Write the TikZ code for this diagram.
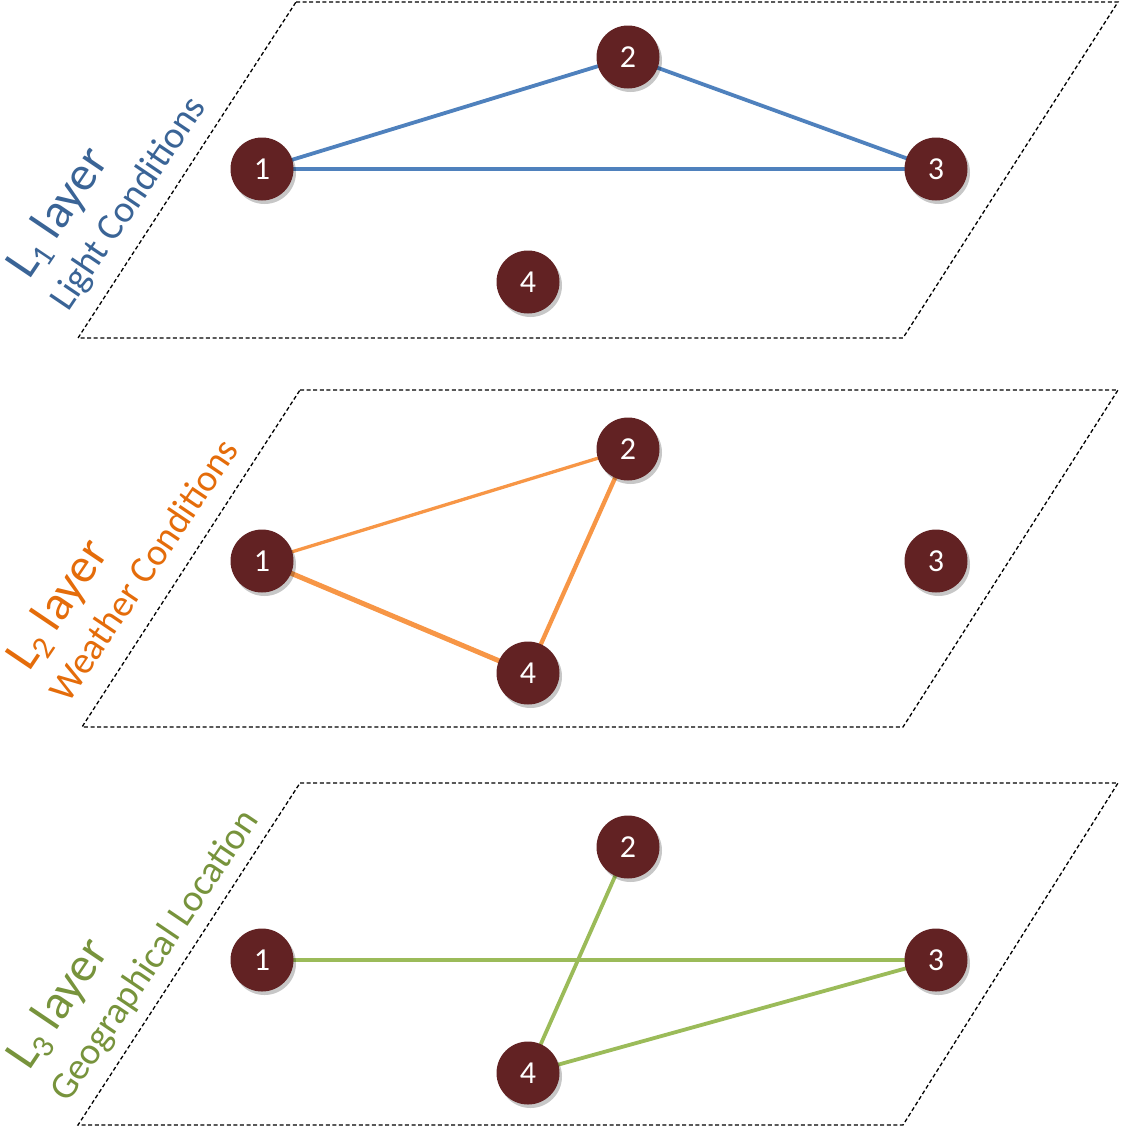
\documentclass[tikz,border=0pt]{standalone}
\usepackage{fontspec}
\setmainfont{Carlito}
\usetikzlibrary{shadows}
\pgfdeclarelayer{background}
\pgfsetlayers{background,main}
\definecolor{nodered}{HTML}{622223}
\definecolor{blueline}{HTML}{4F81BD}
\definecolor{bluetext}{HTML}{3A6496}
\definecolor{orangeline}{HTML}{F79646}
\definecolor{orangetext}{HTML}{E46C0A}
\definecolor{greenline}{HTML}{9BBB59}
\definecolor{greentext}{HTML}{77933C}
\newcommand{\lsub}[1]{\raisebox{-0.16em}{\fontsize{32}{32}\selectfont #1}}
\begin{document}
\begin{tikzpicture}[x=1pt,y=-1pt,
  vtx/.style={circle, fill=nodered, minimum size=63pt, inner sep=0pt, text=white,
    font=\fontsize{32}{32}\selectfont,
    drop shadow={shadow xshift=2.5pt, shadow yshift=-3.5pt, fill=black, opacity=0.22}},
  plane/.style={draw=black, line width=1.3pt, dash pattern=on 4pt off 2.6pt},
  title/.style={anchor=base west, rotate=56, inner sep=0pt, font=\fontsize{49}{49}\selectfont},
  subtitle/.style={anchor=base west, rotate=56, inner sep=0pt, font=\fontsize{38}{38}\selectfont},
  edge/.style={line width=3.8pt}
]
\useasboundingbox (0,0) rectangle (1121,1141);

% planes
\draw[plane] (296,2) -- (1118,2) -- (903,338) -- (78,338) -- cycle;
\draw[plane] (300,390) -- (1118,390) -- (903,727) -- (82,727) -- cycle;
\draw[plane] (300,783) -- (1118,783) -- (903,1125) -- (78,1125) -- cycle;

% layer 1
\node[vtx] (a1) at (262,169) {1};
\node[vtx] (a2) at (628,57) {2};
\node[vtx] (a3) at (936,169) {3};
\node[vtx] (a4) at (528,282) {4};
% layer 2
\node[vtx] (b1) at (262,561) {1};
\node[vtx] (b2) at (628,449) {2};
\node[vtx] (b3) at (936,561) {3};
\node[vtx] (b4) at (528,673) {4};
% layer 3
\node[vtx] (c1) at (262,960) {1};
\node[vtx] (c2) at (628,847) {2};
\node[vtx] (c3) at (936,960) {3};
\node[vtx] (c4) at (528,1073) {4};

\begin{pgfonlayer}{background}
\draw[edge, blueline] (a1.center) -- (a2.center) -- (a3.center);
\draw[edge, blueline] (a1.center) -- (a3.center);
\draw[orangeline, line width=3.3pt] (b1.center) -- (b2.center);
\draw[orangeline, line width=5pt] (b1.center) -- (b4.center);
\draw[orangeline, line width=4.3pt] (b2.center) -- (b4.center);
\draw[edge, greenline] (c1.center) -- (c3.center);
\draw[edge, greenline] (c4.center) -- (c3.center);
\draw[edge, greenline] (c4.center) -- (c2.center);
\end{pgfonlayer}

% labels
\node[title, text=bluetext] (t1) at (29,281) {L\lsub{1} layer};
\node[subtitle, text=bluetext] (s1) at (68,313) {Light Conditions};
\node[title, text=orangetext] (t2) at (29,673) {L\lsub{2} layer};
\node[subtitle, text=orangetext] (s2) at (68,705) {Weather Conditions};
\node[title, text=greentext] (t3) at (29,1072) {L\lsub{3} layer};
\node[subtitle, text=greentext] (s3) at (68,1104) {Geographical Location};
\end{tikzpicture}
\end{document}
